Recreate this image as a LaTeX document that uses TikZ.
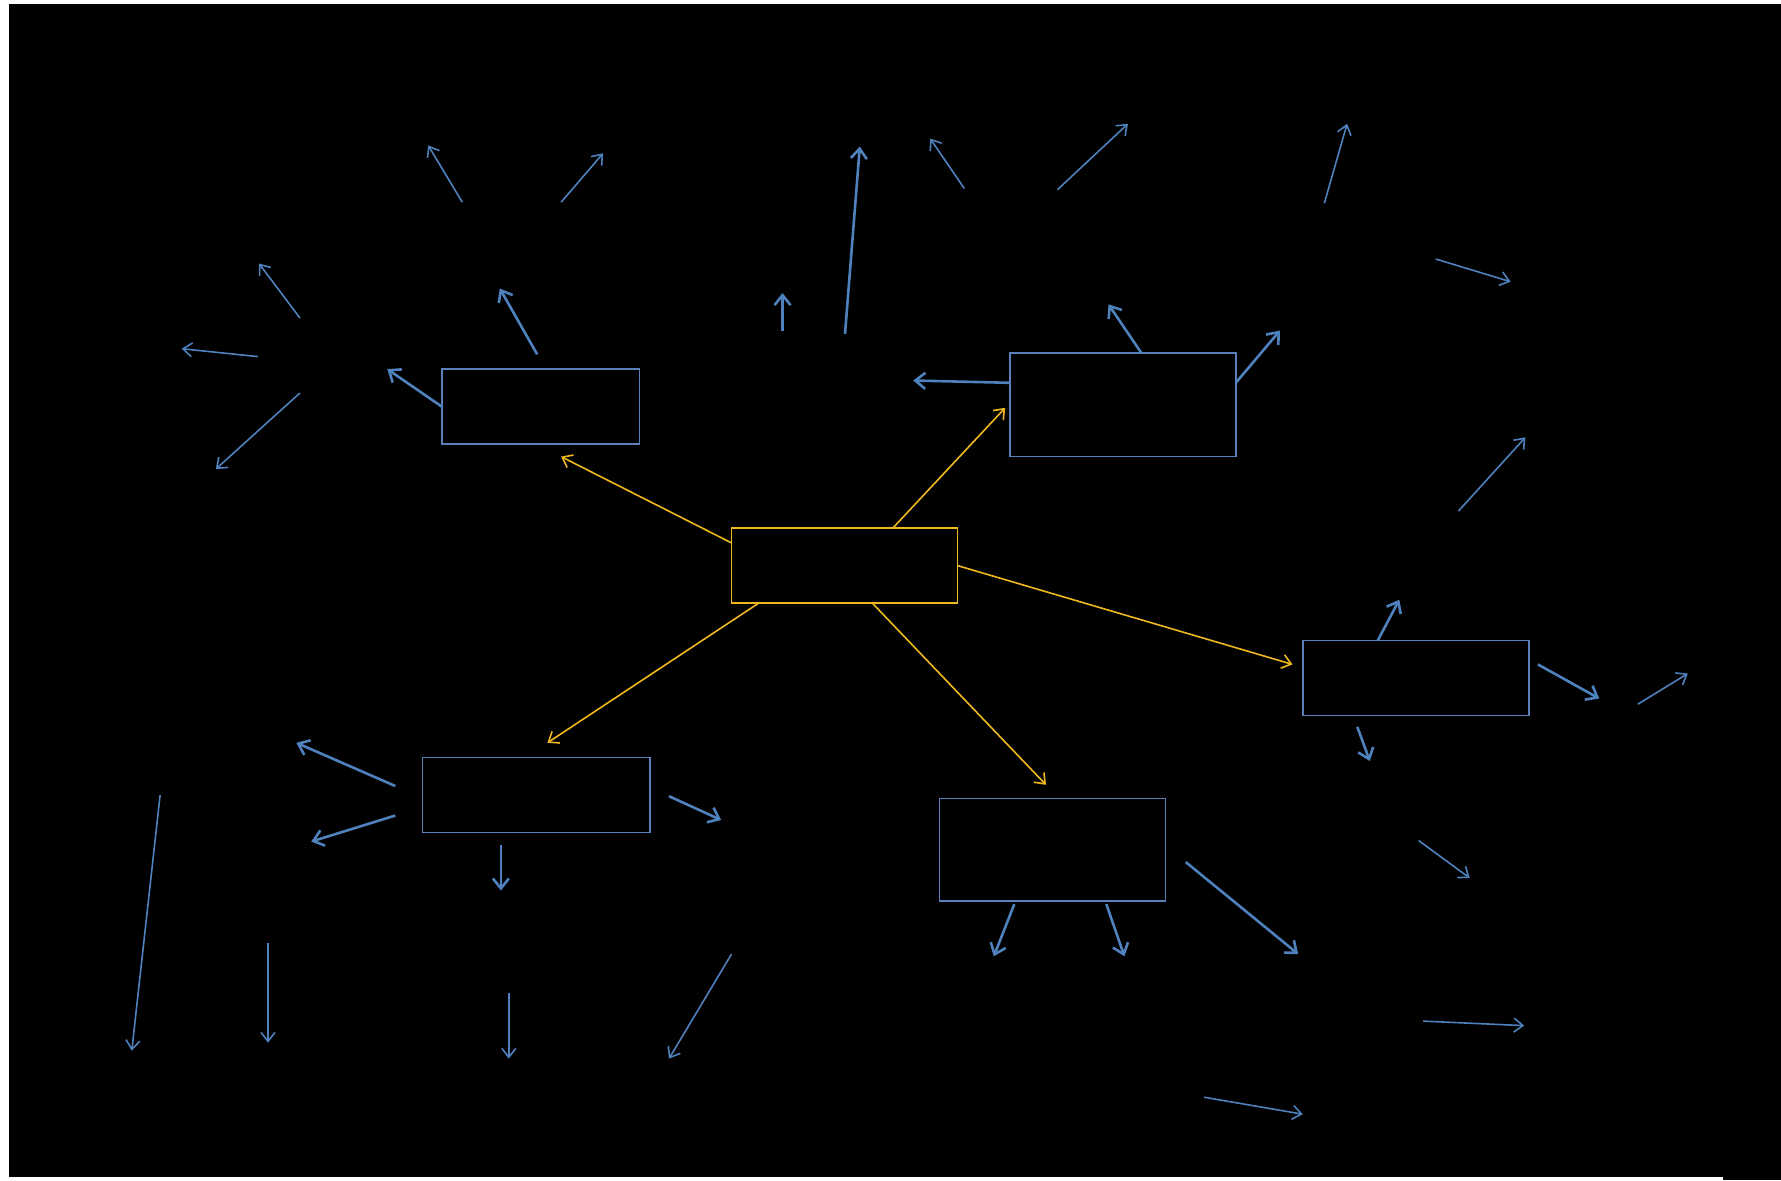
\documentclass[tikz,border=0pt]{standalone}
\usetikzlibrary{arrows.meta}
\definecolor{bblue}{RGB}{79,129,189}
\definecolor{bbox}{RGB}{90,130,185}
\definecolor{yel}{RGB}{238,184,30}
\tikzset{
  box/.style={draw=bbox,line width=0.8pt,inner sep=0pt,outer sep=0pt,fill=black},
  ybox/.style={draw=yel,line width=0.9pt,inner sep=0pt,outer sep=0pt,fill=black},
  yarr/.style={draw=yel,line width=0.8pt,-{Straight Barb[length=4.5pt,width=7pt,line width=0.8pt]}},
  tharr/.style={draw=bblue,line width=1.3pt,-{Straight Barb[length=5pt,width=8pt,line width=1.3pt]}},
  tnarr/.style={draw=bblue,line width=0.8pt,-{Straight Barb[length=4.5pt,width=7pt,line width=0.8pt]}}
}
\begin{document}
\begin{tikzpicture}[x=0.5pt,y=-0.5pt]
\fill[white] (0,0) rectangle (1781,1180);
\useasboundingbox (0,0) rectangle (1781,1180);
\fill[black] (9,4) rectangle (1781,1177);
\fill[black] (1723,1176) rectangle (1781,1180);
% boxes
\node[ybox,minimum width=113pt,minimum height=37.45pt] (C) at (844.5,565.7) {};
\node[box,minimum width=98.85pt,minimum height=37.5pt] (TL) at (540.7,406.6) {};
\node[box,minimum width=113.05pt,minimum height=51.7pt] (TR) at (1122.8,404.9) {};
\node[box,minimum width=113pt,minimum height=37.5pt] (R) at (1415.8,678.1) {};
\node[box,minimum width=113.6pt,minimum height=37.45pt] (BL) at (536.1,795.1) {};
\node[box,minimum width=113pt,minimum height=51.1pt] (BC) at (1052.3,849.6) {};
% yellow connectors
\coordinate (y1s) at (731.5,542.9); \coordinate (y1e) at (561.1,456.6);
\coordinate (y2s) at (892.7,528.2); \coordinate (y2e) at (1005.2,407.8);
\coordinate (y3s) at (957.5,565.6); \coordinate (y3e) at (1292.5,664.4);
\coordinate (y4s) at (758.7,603.1); \coordinate (y4e) at (547.4,742.8);
\coordinate (y5s) at (872.3,603.1); \coordinate (y5e) at (1046.0,784.8);
\foreach \n in {y1,y2,y3,y4,y5} \draw[yarr] (\n s) -- (\n e);
% thick blue arrows
\foreach \n/\ax/\ay/\bx/\by in {
 a1/441.8/406.6/387.3/369.1,
 a2/537.2/354.4/499.8/288.5,
 a3/782.5/330.5/782.5/293.0,
 a4/845.0/333.9/859.8/146.5,
 a5/1009.7/382.8/913.2/380.5,
 a6/1141.5/353.2/1108.5/304.4,
 a7/1235.8/382.8/1280.0/330.5,
 a8/1377.7/640.6/1399.3/599.7,
 a9/1537.9/664.4/1599.2/698.5,
 a10/1357.3/726.9/1369.8/761.0,
 a11/395.3/786.0/296.4/742.8,
 a12/395.3/815.5/311.2/841.6,
 a13/500.9/845.0/500.9/890.5,
 a14/669.0/796.2/721.2/820.0,
 a15/1014.3/904.1/993.8/956.3,
 a16/1106.3/904.1/1124.4/956.3,
 a17/1185.8/862.1/1298.2/954.1}
 {\coordinate (\n s) at (\ax,\ay); \coordinate (\n e) at (\bx,\by);
  \draw[tharr] (\n s) -- (\n e);}
% thin blue arrows
\foreach \n/\ax/\ay/\bx/\by in {
 b1/462.3/202.2/428.2/145.4,
 b2/561.1/202.2/603.1/153.3,
 b3/299.9/318.0/259.0/263.5,
 b4/257.8/356.6/181.7/348.7,
 b5/299.9/393.0/215.8/469.1,
 b6/964.3/188.5/930.2/138.6,
 b7/1057.4/189.7/1127.9/123.8,
 b8/1324.3/203.3/1347.1/123.8,
 b9/1435.7/259.0/1510.6/281.7,
 b10/1458.4/511.1/1525.4/437.3,
 b11/1637.8/704.2/1687.8/673.5,
 b12/160.1/795.1/131.8/1050.6,
 b13/268.0/942.7/268.0/1042.7,
 b14/508.8/992.7/508.8/1058.6,
 b15/731.5/954.1/669.0/1058.6,
 b16/1418.6/840.5/1469.7/878.0,
 b17/1423.1/1021.1/1524.2/1025.6,
 b18/1204.0/1097.2/1302.8/1114.2}
 {\coordinate (\n s) at (\ax,\ay); \coordinate (\n e) at (\bx,\by);
  \draw[tnarr] (\n s) -- (\n e);}
\end{tikzpicture}
\end{document}
